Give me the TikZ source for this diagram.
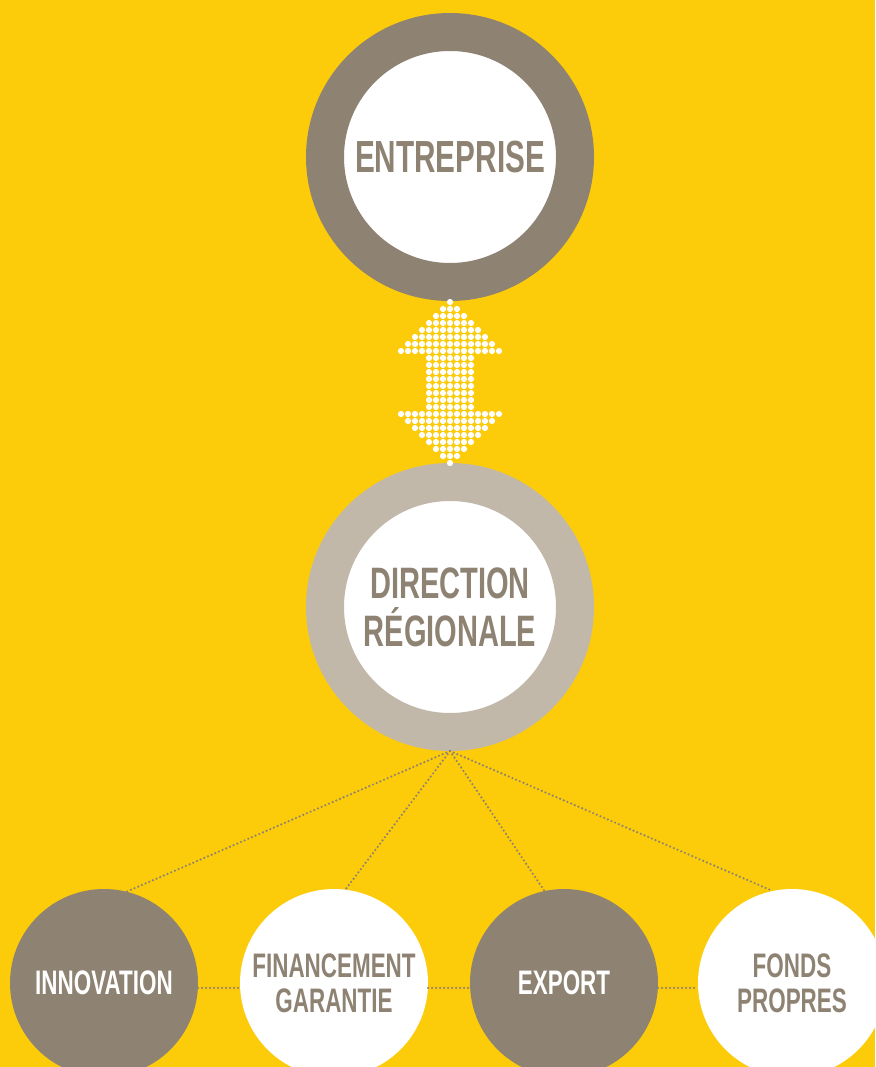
\documentclass[tikz,border=0pt]{standalone}
\usepackage{fontspec,tikz}
\newfontfamily\condfont[FakeStretch=0.66]{Liberation Sans}
\definecolor{jaune}{HTML}{FCCB0A}
\definecolor{taupe}{HTML}{8E8272}
\definecolor{grege}{HTML}{C2B8AA}
\tikzset{
  anneau/.style={circle,inner sep=0pt,minimum size=250pt,line width=38pt,fill=white,text=taupe,align=center},
  pleine/.style={circle,inner sep=0pt,minimum size=188pt,fill=taupe,text=white,align=center},
  vide/.style={circle,inner sep=0pt,minimum size=188pt,fill=white,text=taupe,align=center},
  pointille/.style={draw=taupe,line width=2.4pt,line cap=round,dash pattern=on 0pt off 4pt},
}
\begin{document}
\begin{tikzpicture}[x=1pt,y=-1pt]
\path[use as bounding box] (0,0) rectangle (875.0,1067.0);
\clip (0,0) rectangle (875.0,1067.0);
\fill[jaune] (0,0) rectangle (875.0,1067.0);
\node[anneau,draw=taupe,font=\condfont\bfseries\fontsize{45.0}{48.0}\selectfont] (entreprise) at (450,157) {ENTREPRISE};
\node[anneau,draw=grege,font=\condfont\bfseries\fontsize{44.0}{48.0}\selectfont] (direction) at (450,607) {\raisebox{-6pt}{DIRECTION}\\\raisebox{-6pt}{RÉGIONALE}};
% fleche en points blancs
\foreach \k in {0,...,23}{
  \pgfmathtruncatemacro{\w}{ifthenelse(min(\k,23-\k)>7,3,min(\k,23-\k))}
  \foreach \i in {-7,...,7}{
    \pgfmathtruncatemacro{\ok}{abs(\i)<=\w}
    \ifnum\ok=1 \fill[white] (450+7*\i,302+7*\k) circle (3.1pt);\fi
  }
}
\node[pleine,font=\condfont\bfseries\fontsize{34.0}{35.0}\selectfont] (innovation) at (104,983) {INNOVATION};
\node[vide,font=\condfont\bfseries\fontsize{34.0}{35.0}\selectfont] (financement) at (334,983) {FINANCEMENT\\GARANTIE};
\node[pleine,font=\condfont\bfseries\fontsize{34.0}{35.0}\selectfont] (export) at (564,983) {EXPORT};
\node[vide,font=\condfont\bfseries\fontsize{34.0}{35.0}\selectfont] (fonds) at (792,983) {FONDS\\PROPRES};
\draw[pointille] (direction.south) -- (innovation.76);
\draw[pointille] (direction.south) -- (financement.83);
\draw[pointille] (direction.south) -- (export.102);
\draw[pointille] (direction.south) -- (fonds.102);
\draw[pointille] (innovation.-3) -- (financement.183);
\draw[pointille] (financement.-3) -- (export.183);
\draw[pointille] (export.-3) -- (fonds.183);
\end{tikzpicture}
\end{document}
